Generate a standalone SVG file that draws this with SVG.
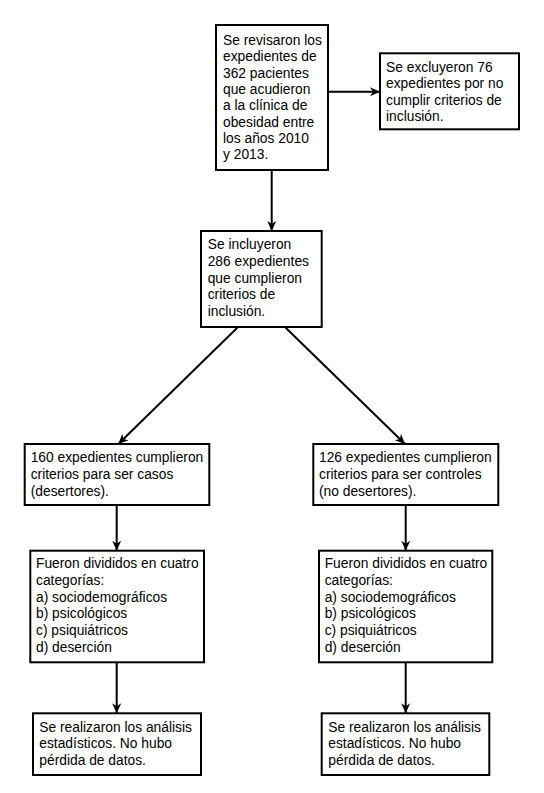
<svg xmlns="http://www.w3.org/2000/svg" width="544" height="793" viewBox="0 0 544 793">
<style>
.box{fill:#fff;stroke:#000;stroke-width:2}
.t{font-family:"Liberation Sans",Arial,sans-serif;font-size:13.8px;fill:#000}
.c{stroke:#000;stroke-width:2;fill:none;marker-end:url(#ah)}
</style>
<defs>
<marker id="ah" markerUnits="userSpaceOnUse" markerWidth="10" markerHeight="10" viewBox="0 0 10 10" refX="10" refY="5" orient="auto">
<path d="M0,0.5 L10,5 L0,9.5 L3,5 z" fill="#000"/>
</marker>
</defs>
<rect width="544" height="793" fill="#fff"/>
<g id="connectors">
<line class="c" x1="328" y1="91.7" x2="380" y2="91.7"/>
<line class="c" x1="271.7" y1="170" x2="271.7" y2="231"/>
<line class="c" x1="237.3" y1="327.7" x2="118.3" y2="444"/>
<line class="c" x1="285.7" y1="327.7" x2="405" y2="444"/>
<line class="c" x1="116.7" y1="505" x2="116.7" y2="550.7"/>
<line class="c" x1="405.7" y1="505" x2="405.7" y2="550.7"/>
<line class="c" x1="116.7" y1="662.3" x2="116.7" y2="713.3"/>
<line class="c" x1="405.7" y1="662.3" x2="405.7" y2="713.3"/>
</g>
<g id="n1">
<rect class="box" x="216" y="25" width="112" height="145"/>
<text class="t" x="223"><tspan x="223" y="45">Se revisaron los</tspan><tspan x="223" y="61.3">expedientes de</tspan><tspan x="223" y="77.6">362 pacientes</tspan><tspan x="223" y="94">que acudieron</tspan><tspan x="223" y="110.3">a la clínica de</tspan><tspan x="223" y="126.6">obesidad entre</tspan><tspan x="223" y="143">los años 2010</tspan><tspan x="223" y="159.3">y 2013.</tspan></text>
</g>
<g id="n2">
<rect class="box" x="380" y="53.3" width="139" height="76"/>
<text class="t"><tspan x="386" y="71.5">Se excluyeron 76</tspan><tspan x="386" y="88">expedientes por no</tspan><tspan x="386" y="104.5">cumplir criterios de</tspan><tspan x="386" y="121">inclusión.</tspan></text>
</g>
<g id="n3">
<rect class="box" x="201" y="231" width="120.7" height="96"/>
<text class="t"><tspan x="207.7" y="249.3">Se incluyeron</tspan><tspan x="207.7" y="266">286 expedientes</tspan><tspan x="207.7" y="282.6">que cumplieron</tspan><tspan x="207.7" y="299.3">criterios de</tspan><tspan x="207.7" y="316">inclusión.</tspan></text>
</g>
<g id="n4">
<rect class="box" x="24.7" y="444" width="184.6" height="61"/>
<text class="t"><tspan x="30.7" y="462.3">160 expedientes cumplieron</tspan><tspan x="30.7" y="479">criterios para ser casos</tspan><tspan x="30.7" y="495.7">(desertores).</tspan></text>
</g>
<g id="n5">
<rect class="box" x="313.3" y="444" width="185" height="61"/>
<text class="t"><tspan x="319" y="462.3">126 expedientes cumplieron</tspan><tspan x="319" y="479">criterios para ser controles</tspan><tspan x="319" y="495.7">(no desertores).</tspan></text>
</g>
<g id="n6">
<rect class="box" x="30.3" y="550.7" width="173.7" height="111.6"/>
<text class="t"><tspan x="36" y="568.3">Fueron divididos en cuatro</tspan><tspan x="36" y="585">categorías:</tspan><tspan x="36" y="601.7">a) sociodemográficos</tspan><tspan x="36" y="618.3">b) psicológicos</tspan><tspan x="36" y="635">c) psiquiátricos</tspan><tspan x="36" y="651.7">d) deserción</tspan></text>
</g>
<g id="n7">
<rect class="box" x="319" y="550.7" width="173.3" height="111.6"/>
<text class="t"><tspan x="324.7" y="568.3">Fueron divididos en cuatro</tspan><tspan x="324.7" y="585">categorías:</tspan><tspan x="324.7" y="601.7">a) sociodemográficos</tspan><tspan x="324.7" y="618.3">b) psicológicos</tspan><tspan x="324.7" y="635">c) psiquiátricos</tspan><tspan x="324.7" y="651.7">d) deserción</tspan></text>
</g>
<g id="n8">
<rect class="box" x="33" y="713.3" width="168" height="61.7"/>
<text class="t"><tspan x="39.3" y="731.7">Se realizaron los análisis</tspan><tspan x="39.3" y="748.3">estadísticos. No hubo</tspan><tspan x="39.3" y="764.7">pérdida de datos.</tspan></text>
</g>
<g id="n9">
<rect class="box" x="321.7" y="713.3" width="167.6" height="61.7"/>
<text class="t"><tspan x="328.3" y="731.7">Se realizaron los análisis</tspan><tspan x="328.3" y="748.3">estadísticos. No hubo</tspan><tspan x="328.3" y="764.7">pérdida de datos.</tspan></text>
</g>
</svg>
